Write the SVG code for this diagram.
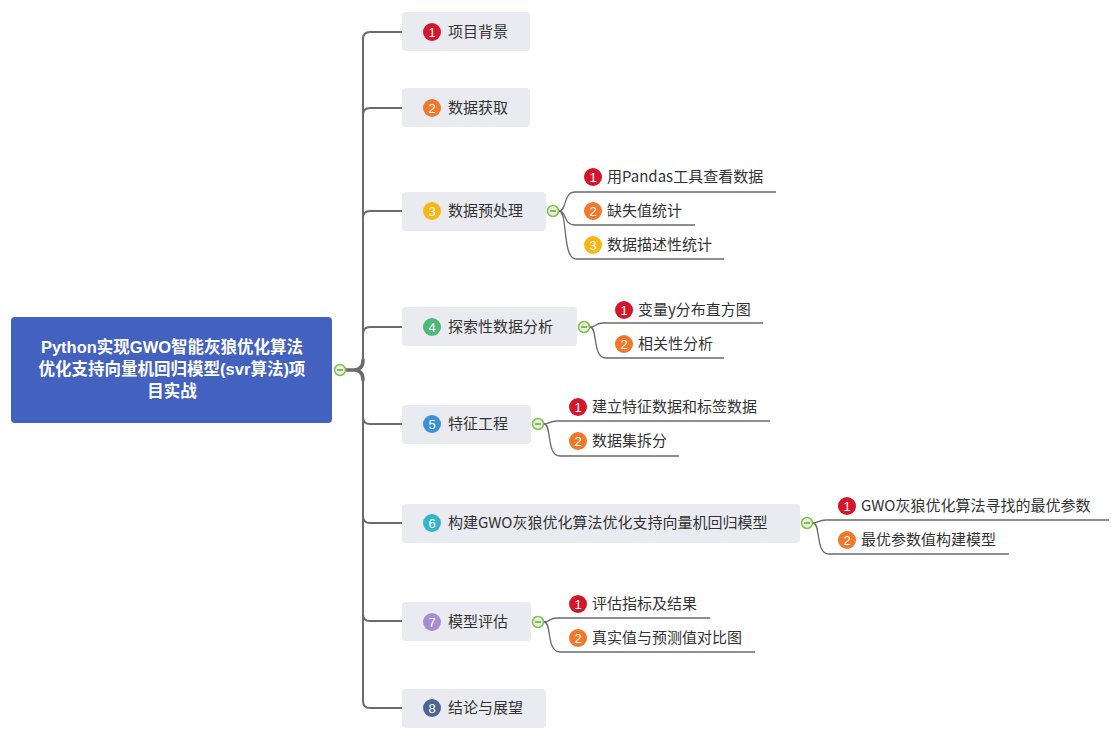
<svg xmlns="http://www.w3.org/2000/svg" width="1117" height="738" viewBox="0 0 1117 738">
<style>
.bg{fill:#ffffff}
.root{fill:#4361BE}
.rt{font-family:"Liberation Sans","Noto Sans CJK SC",sans-serif;font-size:16.5px;font-weight:bold;fill:#ffffff;text-anchor:middle}
.node{fill:#E9EBF0}
.t{font-family:"Noto Sans CJK SC","Liberation Sans",sans-serif;font-size:15px;fill:#333333}
.num{font-family:"Liberation Sans",sans-serif;font-size:13px;fill:#ffffff;text-anchor:middle}
.trunk{fill:none;stroke:#6B6B6B;stroke-width:2}
.thick{fill:none;stroke:#6B6B6B;stroke-width:3.5;stroke-linecap:round}
.sub{fill:none;stroke:#6B6B6B;stroke-width:1.3}
.col{fill:#E6F4D6;stroke:#7EBF4E;stroke-width:1.5}
.minus{stroke:#5F8F3A;stroke-width:1.3}
.c1{fill:#D5152A}.c2{fill:#F1782A}.c3{fill:#FBB516}.c4{fill:#4DB87A}
.c5{fill:#3C8FD9}.c6{fill:#33B4CA}.c7{fill:#A68DD1}.c8{fill:#4B6690}
</style>
<rect class="bg" x="0" y="0" width="1117" height="738"/>
<g id="connectors">
<path class="thick" d="M346 370 H354 Q363 370 363 360 M354 370 Q363 370 363 380"/>
<path class="trunk" d="M363 362 V39 Q363 32 370 32 H402"/>
<path class="trunk" d="M363 115 Q363 108 370 108 H402"/>
<path class="trunk" d="M363 218 Q363 211 370 211 H402"/>
<path class="trunk" d="M363 334 Q363 327 370 327 H402"/>
<path class="trunk" d="M363 378 V701 Q363 708 370 708 H402"/>
<path class="trunk" d="M363 417 Q363 424 370 424 H402"/>
<path class="trunk" d="M363 516 Q363 523 370 523 H402"/>
<path class="trunk" d="M363 614 Q363 621 370 621 H402"/>
<path class="sub" d="M559 211 C567 211 563 192 575 192 H776"/>
<path class="sub" d="M559 211 C567 211 563 225 575 225 H695"/>
<path class="sub" d="M559 211 C568 211 562 259 576 259 H724"/>
<path class="sub" d="M590 327 C596 327 595 323 603 323 H763"/>
<path class="sub" d="M590 327 C598 327 592 358 606 358 H724"/>
<path class="sub" d="M544 424 C550 424 549 421 557 421 H770"/>
<path class="sub" d="M544 424 C552 424 546 456 560 456 H679"/>
<path class="sub" d="M813 523 C819 523 818 520 826 520 H1109"/>
<path class="sub" d="M813 523 C821 523 815 554 829 554 H1009"/>
<path class="sub" d="M544 622 C550 622 549 618 557 618 H710"/>
<path class="sub" d="M544 622 C552 622 546 652 560 652 H755"/>
</g>
<g id="root">
<rect class="root" x="11" y="317" width="321" height="106" rx="4"/>
<text class="rt" x="172" y="353">Python实现GWO智能灰狼优化算法</text>
<text class="rt" x="172" y="375">优化支持向量机回归模型(svr算法)项</text>
<text class="rt" x="172" y="397">目实战</text>
<circle class="col" cx="340" cy="370" r="5.5"/><line class="minus" x1="337" y1="370" x2="343" y2="370"/>
</g>
<g id="n1">
<rect class="node" x="402" y="12" width="128" height="39" rx="4"/>
<circle class="c1" cx="432" cy="32" r="9"/><text class="num" x="432" y="36.5">1</text>
<text class="t" x="448" y="37">项目背景</text>
</g>
<g id="n2">
<rect class="node" x="402" y="88" width="128" height="39" rx="4"/>
<circle class="c2" cx="432" cy="108" r="9"/><text class="num" x="432" y="112.5">2</text>
<text class="t" x="448" y="113">数据获取</text>
</g>
<g id="n3">
<rect class="node" x="402" y="192" width="144" height="39" rx="4"/>
<circle class="c3" cx="432" cy="211" r="9"/><text class="num" x="432" y="215.5">3</text>
<text class="t" x="448" y="216">数据预处理</text>
<circle class="col" cx="553" cy="211" r="5.5"/><line class="minus" x1="550" y1="211" x2="556" y2="211"/>
</g>
<g id="n3c1"><circle class="c1" cx="593" cy="177" r="9"/><text class="num" x="593" y="181.5">1</text><text class="t" x="607" y="182">用Pandas工具查看数据</text></g>
<g id="n3c2"><circle class="c2" cx="593" cy="211" r="9"/><text class="num" x="593" y="215.5">2</text><text class="t" x="607" y="216">缺失值统计</text></g>
<g id="n3c3"><circle class="c3" cx="593" cy="245" r="9"/><text class="num" x="593" y="249.5">3</text><text class="t" x="607" y="250">数据描述性统计</text></g>
<g id="n4">
<rect class="node" x="402" y="307" width="175" height="39" rx="4"/>
<circle class="c4" cx="432" cy="327" r="9"/><text class="num" x="432" y="331.5">4</text>
<text class="t" x="448" y="332">探索性数据分析</text>
<circle class="col" cx="584" cy="327" r="5.5"/><line class="minus" x1="581" y1="327" x2="587" y2="327"/>
</g>
<g id="n4c1"><circle class="c1" cx="624" cy="310" r="9"/><text class="num" x="624" y="314.5">1</text><text class="t" x="638" y="315">变量y分布直方图</text></g>
<g id="n4c2"><circle class="c2" cx="624" cy="344" r="9"/><text class="num" x="624" y="348.5">2</text><text class="t" x="638" y="349">相关性分析</text></g>
<g id="n5">
<rect class="node" x="402" y="405" width="129" height="39" rx="4"/>
<circle class="c5" cx="432" cy="424" r="9"/><text class="num" x="432" y="428.5">5</text>
<text class="t" x="448" y="429">特征工程</text>
<circle class="col" cx="538" cy="424" r="5.5"/><line class="minus" x1="535" y1="424" x2="541" y2="424"/>
</g>
<g id="n5c1"><circle class="c1" cx="578" cy="407" r="9"/><text class="num" x="578" y="411.5">1</text><text class="t" x="592" y="412">建立特征数据和标签数据</text></g>
<g id="n5c2"><circle class="c2" cx="578" cy="441" r="9"/><text class="num" x="578" y="445.5">2</text><text class="t" x="592" y="446">数据集拆分</text></g>
<g id="n6">
<rect class="node" x="402" y="504" width="398" height="39" rx="4"/>
<circle class="c6" cx="432" cy="523" r="9"/><text class="num" x="432" y="527.5">6</text>
<text class="t" x="448" y="528">构建GWO灰狼优化算法优化支持向量机回归模型</text>
<circle class="col" cx="807" cy="523" r="5.5"/><line class="minus" x1="804" y1="523" x2="810" y2="523"/>
</g>
<g id="n6c1"><circle class="c1" cx="847" cy="506" r="9"/><text class="num" x="847" y="510.5">1</text><text class="t" x="861" y="511">GWO灰狼优化算法寻找的最优参数</text></g>
<g id="n6c2"><circle class="c2" cx="847" cy="540" r="9"/><text class="num" x="847" y="544.5">2</text><text class="t" x="861" y="545">最优参数值构建模型</text></g>
<g id="n7">
<rect class="node" x="402" y="602" width="129" height="39" rx="4"/>
<circle class="c7" cx="432" cy="622" r="9"/><text class="num" x="432" y="626.5">7</text>
<text class="t" x="448" y="627">模型评估</text>
<circle class="col" cx="538" cy="622" r="5.5"/><line class="minus" x1="535" y1="622" x2="541" y2="622"/>
</g>
<g id="n7c1"><circle class="c1" cx="578" cy="604" r="9"/><text class="num" x="578" y="608.5">1</text><text class="t" x="592" y="609">评估指标及结果</text></g>
<g id="n7c2"><circle class="c2" cx="578" cy="638" r="9"/><text class="num" x="578" y="642.5">2</text><text class="t" x="592" y="643">真实值与预测值对比图</text></g>
<g id="n8">
<rect class="node" x="402" y="689" width="144" height="39" rx="4"/>
<circle class="c8" cx="432" cy="708" r="9"/><text class="num" x="432" y="712.5">8</text>
<text class="t" x="448" y="713">结论与展望</text>
</g>
</svg>
